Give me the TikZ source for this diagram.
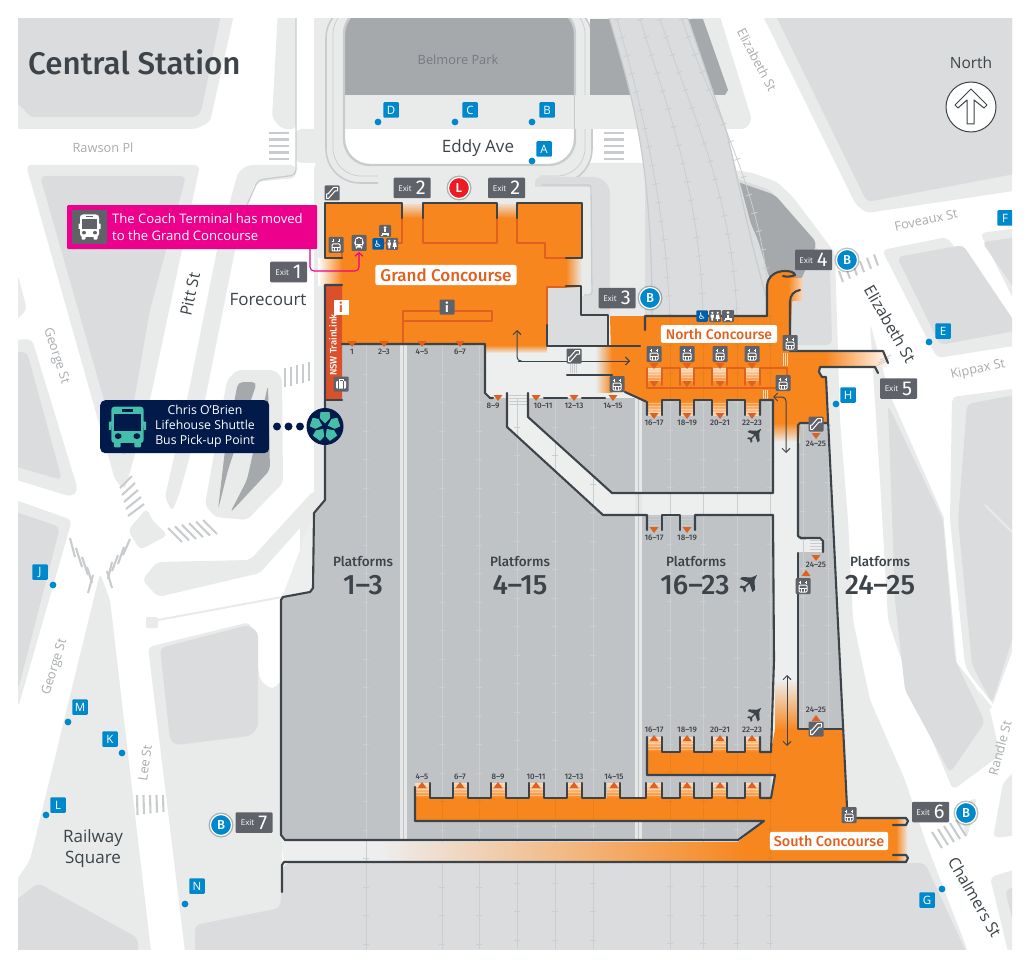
\documentclass[tikz,border=0pt]{standalone}
\usepackage{fontspec}
\setmainfont{Open Sans}
\newfontfamily\dinf[Ligatures=TeX]{Fira Sans}
\newfontfamily\dinm[Ligatures=TeX]{Fira Sans Medium}
\newfontfamily\dejav{DejaVu Sans}
\usetikzlibrary{arrows.meta}
\definecolor{orng}{HTML}{F7861E}
\definecolor{orngd}{HTML}{E0601F}
\definecolor{orngt}{HTML}{E9801C}
\definecolor{redb}{HTML}{D9502A}
\definecolor{wallc}{HTML}{3C4449}
\definecolor{plat}{HTML}{C0C3C6}
\definecolor{palec}{HTML}{EDEEEE}
\definecolor{pav}{HTML}{E9EBEB}
\definecolor{blk}{HTML}{DADCDD}
\definecolor{darkg}{HTML}{A5A9AC}
\definecolor{crossc}{HTML}{C9CCCE}
\definecolor{trk}{HTML}{CBCED0}
\definecolor{iconc}{HTML}{5F6369}
\definecolor{stopb}{HTML}{0088CC}
\definecolor{wcb}{HTML}{005EA8}
\definecolor{pinkc}{HTML}{EC008C}
\definecolor{navyc}{HTML}{021A4A}
\definecolor{tealc}{HTML}{45BFA9}
\definecolor{txtd}{HTML}{3C4449}
\definecolor{txtg}{HTML}{A8ACAF}
\definecolor{redl}{HTML}{ED1C24}
\tikzset{
 wall/.style={draw=wallc,line width=2.1,line join=round,line cap=round},
 inner line/.style={draw=orngd,line width=1.6,line join=round,line cap=round},
 crossing/.style={draw=crossc,line width=2.1},
 street/.style={text=txtg,font=\fontsize{12.8}{13}\selectfont,inner sep=0},
 place/.style={text=txtd,font=\fontsize{17}{21}\selectfont,inner sep=0,align=center},
 smalllab/.style={text=txtd,font=\dinm\fontsize{8}{8}\selectfont,inner sep=0},
 platlab/.style={text=txtd,font=\dinm\fontsize{13.5}{14}\selectfont,inner sep=0},
 platnum/.style={text=txtd,font=\dinm\fontsize{28}{28}\selectfont,inner sep=0},
 exitbox/.style={fill=iconc,text=white,inner sep=0,minimum width=37,minimum height=20.5,rounded corners=1pt},
 stopbox/.style={fill=stopb,text=white,inner sep=0,minimum width=15.5,minimum height=15.5,rounded corners=1pt,font=\fontsize{11.5}{12}\selectfont},
 hallname/.style={fill=white,text=orngd,rounded corners=2pt,inner xsep=5,inner ysep=3.5},
 darrow/.style={draw=wallc,line width=1,{Straight Barb[length=4pt,width=8pt]}-{Straight Barb[length=4pt,width=8pt]}},
}
% ---- icons
\newcommand\gbox{\fill[iconc,rounded corners=1pt] (-7.5,-8) rectangle (7.5,8);}
\newcommand\liftic[2]{\begin{scope}[shift={(#1,#2)}]\gbox
 \draw[white,line width=1,rounded corners=1pt] (-4,-1) rectangle (4,6);
 \draw[white,line width=.7] (-4,2.5)--(4,2.5) (-1.4,2.5)--(-1.4,6) (1.4,2.5)--(1.4,6);
 \draw[white,line width=.9] (-3,-5.5)--(-3,-2.5) (-4.3,-4)--(-1.7,-4) (3,-5.5)--(3,-2.5);
 \draw[white,line width=.9] (1.7,-4)--(4.3,-4);
 \end{scope}}
\newcommand\escic[2]{\begin{scope}[shift={(#1,#2)}]\fill[iconc,rounded corners=1pt] (-7.5,-7.5) rectangle (7.5,7.5);
 \draw[white,line width=1,line cap=round,line join=round] (-5.5,5.5)--(-3.5,5.5)--(3,-2)--(5.5,-2)--(5.5,-5.5)--(1.5,-5.5)--(-4,1)--(-5.5,1)--cycle;
 \end{scope}}
\newcommand\busic[5]{\begin{scope}[shift={(#1,#2)},#3]
 \fill[#4] (-9,-4) -- (-11,-3.5) -- (-11,2) -- (-9.6,2) -- cycle;
 \fill[#4] (9,-4) -- (11,-3.5) -- (11,2) -- (9.6,2) -- cycle;
 \fill[#4,rounded corners=3pt] (-9.5,-14) rectangle (9.5,11);
 \fill[#4,rounded corners=1pt] (-8,9) rectangle (-4,14) (8,9) rectangle (4,14);
 \fill[#5] (-7.8,-9) rectangle (7.8,2.5);
 \fill[#5] (-3.5,-12.6) rectangle (3.5,-10.6);
 \fill[#5] (-5.5,6.3) circle (2) (5.5,6.3) circle (2);
 \end{scope}}
\newcommand\tolic[2]{\begin{scope}[shift={(#1,#2)}]\fill[iconc,rounded corners=1pt] (-6,-6) rectangle (6,6);
 \fill[white] (-2.7,-3.2) circle (1.2) (2.7,-3.2) circle (1.2);
 \fill[white] (-4.3,-1.5) rectangle (-1.2,1.5) (-3.6,1.5) rectangle (-1.9,4.5);
 \fill[white] (1.4,-1.5) -- (4,-1.5) -- (4.8,3) -- (.6,3) -- cycle;
 \fill[white] (2,3) rectangle (3.4,4.8);
 \end{scope}}
\newcommand\pramic[2]{\begin{scope}[shift={(#1,#2)}]\fill[iconc,rounded corners=1pt] (-6,-6) rectangle (6,6);
 \fill[white] (0,-3.4) circle (1.5);
 \fill[white] (-1.4,-1.5) rectangle (1.4,1.5);
 \fill[white] (-3.5,1.8) rectangle (3.5,3.6);
 \fill[white] (-3,4.5) circle (.9) (3,4.5) circle (.9);
 \end{scope}}
\newcommand\wcic[2]{\node[fill=wcb,text=white,inner sep=0,minimum size=11.5,rounded corners=1pt,font=\dejav\fontsize{9}{9}\selectfont] at (#1,#2) {♿};}
\newcommand\planeic[3]{\begin{scope}[shift={(#1,#2)},scale=#3]
 \fill[wallc] (9,-9) -- (6.5,-3.5) -- (7,6) -- (4.5,8) -- (1.5,-0.5) -- (-2.5,3.5) -- (-2,7) -- (-4,8.5) -- (-5,4.5) -- (-8.5,3.5) -- (-7,1.6) -- (-3.5,2.2) -- (.5,-1.5) -- (-8,-5) -- (-6,-7) -- (3.5,-6.5) -- cycle;
 \end{scope}}
\newcommand\trd[2]{\fill[orngd] (#1-4.5,#2-3) -- (#1+4.5,#2-3) -- (#1,#2+3) -- cycle;}
\newcommand\tru[2]{\fill[orngd] (#1-4.5,#2+3) -- (#1+4.5,#2+3) -- (#1,#2-3) -- cycle;}
\newcommand\stairO[3]{%
 \ifnum#3=1 \shade[top color=orng,bottom color=orng!35!white] (#1-7,#2) rectangle (#1+7,#2+15);
 \else \shade[top color=orng!30!white,bottom color=orng] (#1-7,#2) rectangle (#1+7,#2+15);\fi
 \foreach \k in {3,6,9,12}{\draw[white,opacity=.35,line width=.7] (#1-7,#2+\k) -- (#1+7,#2+\k);}}
\newcommand\stairG[3]{\foreach \k in {0,3,6,9}{\draw[crossc,line width=.7] (#1-#3,#2+\k) -- (#1+#3,#2+\k);}}
\newcommand\exitb[4]{\node[exitbox] (#1) at (#2,#3) {\raisebox{3.5pt}{\fontsize{8}{8}\selectfont Exit}\hspace{4pt}{\dinf\fontsize{20}{20}\selectfont #4}};}
\newcommand\bbadge[4]{\fill[black,opacity=.25] (#2,#3) circle (12.5);
 \node[circle,fill=#1,draw=white,line width=1.2,text=white,inner sep=0,minimum size=21,font=\dinm\fontsize{13}{13}\selectfont] at (#2,#3) {#4};}
\newcommand\stopm[5]{\fill[stopb] (#4,#5) circle (3.4);
 \node[stopbox] at (#2,#3) {#1};}
\newcommand\tracksv[1]{%
 \foreach \x/\yy in {366/345,442/345,479/345,517/398,555/398,593/398,670/316,703/316,737/316,770/316}{
  \draw[#1,line width=.8] (\x,\yy)--(\x,949);
  \draw[#1,line width=6.5,dash pattern=on .8pt off 27.7pt] (\x,\yy)--(\x,949);}
 \foreach \x in {803,828}{
  \draw[#1,line width=.8] (\x,425)--(\x,728);
  \draw[#1,line width=6.5,dash pattern=on .8pt off 27.7pt] (\x,425)--(\x,728);}}
\def\grandpoly{(325,203)--(402,203)--(402,218)--(423,218)--(423,203)--(497,203)--(497,218)--(517,218)--(517,203)--(582,203)--(582,258)--(566,258)--(566,287)--(547,287)--(547,345)--(342,345)--(342,258)--(325,258)--cycle}
\def\northpoly{(610,316)--(767,316)--(767,287)..controls (767,276) and (776,271)..(785,271)..controls (790,271) and (794,272)..(796,275)--(800,290)--(792,302)--(790,351)--(825,351)--(825,367)--(820,367)--(819,372)--(822,377)--(826,377)--(828,423)--(773,423)--(773,400)--(647,400)--(645,402)--(625,392)--(612,392)--cycle}
\def\southpoly{(775,729)--(843,729)--(847,807)--(847,818)--(896,818)--(896,862)--(745,862)--(738,842)--(764,821)--(415,821)--(415,798)--(771,798)--(775,775)--(647,775)--(647,752)--(771,752)--cycle}
\begin{document}
\begin{tikzpicture}[x=1pt,y=-1pt]
\useasboundingbox (0,0) rectangle (1030,968);
\fill[white] (0,0) rectangle (1030,968);
\fill[white] (18,19) rectangle (1012,949);
\begin{scope}
\clip (18,19) rectangle (1012,949);
% ===== city blocks
\begin{scope}[rounded corners=5pt]
 \fill[pav] (10,10) -- (235,10) -- (210,122) -- (196,129) -- (10,129) -- cycle;
 \fill[blk] (10,10) -- (222,10) -- (201,112) -- (196,117) -- (30,117) -- (20,105) -- (10,100) -- cycle;
 \fill[pav] (278,10) -- (296,10) -- (296,129) -- (282,129) -- (272,118) -- cycle;
 % Pitt St corner and its east band
 \fill[pav] (296,165) -- (248,165) -- (238,172) -- (217,250) -- (187,400) -- (165,497) -- (172,512) -- (180,492) -- (205,400) -- (235,250) -- (247,205) -- (255,182) -- (296,178) -- cycle;
 % big wedge west of Pitt St
 \fill[pav] (26,165) -- (200,165) -- (182,250) -- (150,400) -- (125,490) -- (115,480) -- cycle;
 \fill[blk] (40,176) -- (186,176) -- (150,310) -- (124,458) -- (104,400) -- cycle;
 \fill[pav] (18,275) -- (27,310) -- (10,325) -- cycle;
 \fill[pav] (10,340) -- (32,339) -- (78,490) -- (72,497) -- (10,478) -- cycle;
 \fill[blk] (10,352) -- (27,352) -- (62,480) -- (10,465) -- cycle;
 \fill[pav] (10,498) -- (72,520) -- (18,708) -- (10,708) -- cycle;
 \fill[blk] (10,510) -- (60,527) -- (18,690) -- (10,690) -- cycle;
 % Railway square
 \fill[pav] (100,573) -- (110,600) -- (152,960) -- (10,960) -- (10,890) -- (30,860) -- cycle;
 \fill[blk] (10,905) -- (38,883) -- (138,938) -- (138,960) -- (10,960) -- cycle;
 % Block east of Lee St
 \fill[pav] (148,647) -- (250,622) -- (260,680) -- (272,690) -- (282,680) -- (282,960) -- (186,960) -- cycle;
 \fill[blk] (160,648) -- (248,625) -- (258,632) -- (258,728) -- (250,736) -- (176,745) -- (170,740) -- cycle;
 % Islands
 \fill[pav] (128,530) -- (147,508) -- (152,520) -- (168,535) -- (140,550) -- cycle;
 \fill[pav] (142,580) -- (157,562) -- (250,560) -- (314,490) -- (325,500) -- (260,573) -- (158,597) -- cycle;
 \fill[pav] (227,380) -- (237,370) -- (275,370) -- (282,378) -- (283,483) -- (247,520) -- (215,517) -- (205,505) -- cycle;
 \fill[darkg] (238,382) -- (257,382) -- (228,470) -- (218,510) -- (225,450) -- cycle;
 \fill[darkg] (268,385) -- (270,470) -- (230,513) -- (247,480) -- cycle;
 \fill[pav] (314,15) rectangle (350,165);
 \fill[pav] (296,129) rectangle (350,163);
 % pale around the station & east band
 \fill[pav] (314,163) -- (687,163) -- (753,173) -- (777,182) -- (793,197) -- (835,253) -- (840,420) -- (848,520) -- (853,620) -- (870,700) -- (905,780) -- (925,840) -- (967,949) -- (967,960) -- (300,960) -- (300,520) -- (314,497) -- cycle;
 \fill[blk] (195,925) -- (280,908) -- (284,863) -- (925,863) -- (970,960) -- (195,960) -- cycle;
 \fill[blk] (645,182) -- (652,176) -- (718,172) -- (770,190) -- (830,265) -- (832,345) -- (645,345) -- cycle;
 \fill[darkg] (732,180) -- (775,195) -- (817,243) -- (800,282) -- (770,280) -- (758,240) -- cycle;
 % Elizabeth St corner / pavement north-east
 \fill[pav] (590,95) -- (703,10) -- (718,10) -- (752,120) -- (746,129) -- (590,129) -- cycle;
 \fill[pav] (760,10) -- (1020,10) -- (1020,190) -- (867,213) -- (856,205) -- cycle;
 \fill[blk] (773,10) -- (1020,10) -- (1020,173) -- (867,202) -- cycle;
 \fill[pav] (882,250) -- (947,237) -- (1020,335) -- (1020,345) -- (937,358) -- cycle;
 \fill[blk] (897,257) -- (963,245) -- (1020,330) -- (940,345) -- cycle;
 \fill[pav] (980,233) -- (1020,228) -- (1020,312) -- cycle;
 \fill[blk] (982,242) -- (1020,237) -- (1020,297) -- cycle;
 % South-east blocks
 \fill[pav] (870,323) -- (890,395) -- (945,520) -- (958,660) -- (990,710) -- (1000,755) -- (953,790) -- (915,700) -- (888,620) -- (880,480) -- cycle;
 \fill[blk] (888,405) -- (943,520) -- (955,660) -- (985,722) -- (950,773) -- (905,690) -- (895,600) -- cycle;
 \fill[pav] (952,397) -- (1020,388) -- (1020,630) -- (990,712) -- (965,665) -- (950,520) -- cycle;
 \fill[blk] (967,404) -- (1020,394) -- (1020,615) -- (992,703) -- (972,665) -- (958,520) -- cycle;
 \fill[pav] (1020,765) -- (1003,783) -- (993,838) -- (1020,835) -- cycle;
 \fill[pav] (977,797) -- (967,838) -- (957,808) -- cycle;
 \fill[pav] (990,877) -- (1020,868) -- (1020,960) -- (1010,960) -- cycle;
 \fill[blk] (1005,890) -- (1020,885) -- (1020,950) -- cycle;
\end{scope}
\draw[pav,line width=2] (985,505) -- (1020,540);
\draw[white,line width=2.5] (945,520) -- (958,662) -- (1000,715) -- (1020,700);
\draw[crossc,line width=1.3,rounded corners=5pt] (296,10) -- (296,175) -- (258,180) -- (247,205);
\draw[pav,line width=2] (158,620) -- (293,595);
\fill[pav,rounded corners=1.5pt] (146,617) rectangle (158,628);
% ===== park ring
\fill[pav,rounded corners=34pt] (326,4) -- (326,183) -- (592,183) -- (592,4) -- cycle;
\fill[white,rounded corners=26pt] (344,8) -- (344,165) -- (575,165) -- (575,8) -- cycle;
\begin{scope}
\clip[rounded corners=26pt] (344,8) -- (344,165) -- (575,165) -- (575,8) -- cycle;
\fill[darkg] (340,0) rectangle (580,95);
\fill[pav] (340,95) rectangle (580,129);
\end{scope}
\draw[crossc,line width=1.6,rounded corners=34pt] (378,183) -- (326,183) -- (326,4) -- (360,4);
\draw[crossc,line width=1.6,rounded corners=34pt] (540,183) -- (592,183) -- (592,4) -- (560,4);
\draw[crossc,line width=.7,rounded corners=28pt] (378,176) -- (333,176) -- (333,6) -- (360,6);
\draw[crossc,line width=.7,rounded corners=28pt] (540,176) -- (585,176) -- (585,6) -- (560,6);
\draw[crossc,line width=2.4,rounded corners=26pt] (360,8) -- (344,8) -- (344,165) -- (575,165) -- (575,8) -- (560,8);
% ===== tracks corridor north
\fill[darkg] (590,19) -- (703,19) -- (728,90) -- (725,95) -- (590,95) -- cycle;
\fill[pav] (575,95) rectangle (600,129);
\fill[blk] (607,10) .. controls (630,90) and (652,150) .. (652,316) -- (767,316) .. controls (770,280) and (740,190) .. (727,133) -- (685,10) -- cycle;
\draw[crossc,line width=1.2] (607,10) .. controls (630,90) and (652,150) .. (652,316);
\draw[crossc,line width=1.2] (685,10) -- (727,133) .. controls (740,190) and (750,240) .. (767,300);
\foreach \a/\b/\c/\d/\e/\f in {617/640/100/665/200/670,640/668/110/700/190/703,660/690/110/732/190/737,682/712/110/765/190/770}{
 \draw[trk,line width=.8] (\a,19) .. controls (\b,\c) and (\d,\e) .. (\f,316);
 \draw[trk,line width=6.5,dash pattern=on .8pt off 18pt] (\a,19) .. controls (\b,\c) and (\d,\e) .. (\f,316);}
% ===== pale band east of grand concourse
\fill[blk,rounded corners=6pt] (535,177) -- (600,177) -- (610,187) -- (610,318) -- (535,318) -- cycle;
\fill[pav,rounded corners=3pt] (530,187) -- (592,187) -- (592,296) -- (530,296) -- cycle;
\draw[crossc,line width=1.3,rounded corners=3pt] (542,185) -- (591,185) -- (592,295) -- (584,295);
% ===== crossings
\foreach \a in {133,139.5,146,152.5,159}{\draw[crossing] (269,\a)--(289,\a); \draw[crossing] (604,\a)--(624,\a);}
\foreach \k in {0,1,2,3,4}{
 \draw[crossing] (285+\k*6,368-\k*1.4)--(285+\k*6,387-\k*1.4);
 \draw[crossing] (120+\k*2,488+\k*7)--(132+\k*3,476+\k*7);
 \draw[crossing] (137+\k*6.5,795)--(137.5+\k*6.5,815-\k*0.8);
}
\foreach \k in {0,1,2,3,4,5}{
 \draw[crossing] (168+\k*7,528-\k*1.6)--(182+\k*7,542-\k*1.6);
 \draw[crossing] (839+\k*7,271-\k*3.3)--(843+\k*7,282-\k*3.3);
}
\foreach \a/\b/\c/\d in {130/539/123/555,124/547/118/564,118/555/112/571,112/562/108/579,107/571/112/588,70/538/75/557,76/548/82/567,82/557/88/575,87/567/92/583,93/575/88/593,932/832/942/848,938/829/948/845,944/826/954/842,950/823/960/839,956/820/966/836}{\draw[crossing] (\a,\b)--(\c,\d);}
% ===== station base
\fill[palec] (281,600) -- (314,513) -- (327,500) -- (327,345) -- (485,345) -- (547,346) -- (640,346) -- (640,375) -- (825,375) -- (847,807) -- (847,862) -- (284,862) -- (281,840) -- cycle;
\fill[plat] (327,345) -- (485,345) -- (485,393) -- (490,398) -- (507,398) -- (507,427) -- (603,515) -- (773,515) -- (774,660) -- (771,800) -- (764,821) -- (738,840) -- (285,840) -- (281,835) -- (281,600) -- (283,597) -- (310,592) -- (313,588) -- (314,513) -- (325,500) -- cycle;
\fill[plat] (528,398) -- (645,398) -- (647,400) -- (773,400) -- (773,493) -- (612,493) -- (528,417) -- cycle;
\fill[plat] (798,423) -- (827,423) -- (843,729) -- (798,729) -- cycle;
\fill[palec] (795,539) rectangle (822,552);
\fill[blk] (547,287) -- (581,287) -- (581,315) -- (608,315) -- (608,346) -- (547,346) -- cycle;
\fill[palec] (490,345) rectangle (546,355);
\fill[palec] (507,393) -- (528,393) -- (528,417) -- (612,493) -- (773,493) -- (773,400) -- (798,400) -- (798,800) -- (775,800) -- (773,515) -- (603,515) -- (507,427) -- cycle;
% pale stripes
\foreach \x/\yy in {403/345,638/398}{\fill[palec!85!plat] (\x-3.5,\yy) rectangle (\x+3.5,840);
  \draw[plat,line width=.6] (\x,\yy)--(\x,840);}
\tracksv{trk}
% ===== orange
\fill[orng] \grandpoly;
\fill[orng] \northpoly;
\fill[orng] \southpoly;
\shade[left color=palec,right color=orng] (380,842) rectangle (745,861);
\shade[top color=palec,bottom color=orng] (775,680) rectangle (798,730);
\fill[orng] (775,729) rectangle (798,775);
\shade[left color=orng,right color=palec] (896,819) rectangle (908,861);
\shade[bottom color=orng,top color=orng!25!palec] (402,205) rectangle (423,218);
\shade[bottom color=orng,top color=orng!25!palec] (497,205) rectangle (517,218);
\shade[left color=orng,right color=pav] (566,258) rectangle (582,287);
\shade[right color=orng,left color=white] (318,259) rectangle (342,285);
\shade[top color=orng,bottom color=palec] (486,345) rectangle (547,353);
\shade[left color=pav,right color=orng] (596,347) rectangle (612,392);
\shade[top color=orng,bottom color=palec] (773,423) rectangle (800,442);
\shade[left color=orng,right color=orng!5!white] (825,352) rectangle (888,366);
\shade[left color=orng,right color=orng!35!white] (788,278) rectangle (802,300);
\begin{scope}\clip \southpoly; \tracksv{orngt}\end{scope}
\begin{scope}\clip \northpoly; \tracksv{orngt}\end{scope}
\begin{scope}\clip (740,842) rectangle (847,862); \tracksv{orngt}\end{scope}
% stairs
\foreach \x in {654,687,720,752}{\stairO{\x}{400}{1}\stairO{\x}{368}{0}\stairO{\x}{737}{0}\stairO{\x}{783}{0}}
\foreach \x in {422,460,498,536,574,614}{\stairO{\x}{783}{0}}
\foreach \x in {654,687}{\stairG{\x}{516}{6}}
\stairG{517.5}{395}{9}
\stairG{816}{540}{6}
\foreach \k in {0,2,4,6}{\draw[crossc,line width=.7] (570+\k,364)--(570+\k,373);}
\foreach \k in {0,2,4}{\draw[orng!30!white,line width=.7] (783+\k,353)--(783+\k,366); \draw[orng!30!white,line width=.7] (763+\k,390)--(763+\k,399);}
\foreach \k in {0,3,6}{\draw[crossc,line width=.7] (876+\k*.7,366-\k)--(887+\k*.7,361-\k);}
% NSW block
\fill[redb,rounded corners=1pt] (325,285) rectangle (342,400);
% inner orange lines
\draw[inner line] (402,218)--(402,243)--(373,243);
\draw[inner line] (423,218)--(423,243)--(497,243)--(497,218);
\draw[inner line] (517,218)--(517,243)--(545,243)--(545,258)--(566,258);
\draw[inner line] (342,250)--(342,258)--(325,258);
\draw[inner line] (403,343)--(403,311)--(492,311)--(492,321)--(403,321);
\draw[inner line] (547,287)--(566,287) (547,287)--(547,325);
\draw[inner line] (647,368)--(647,388)--(787,388)--(787,368)--(760,368)--(760,385);
\draw[inner line] (662,385)--(662,368)--(680,368)--(680,385);
\draw[inner line] (694,385)--(694,368)--(712,368)--(712,385);
\draw[inner line] (727,385)--(727,368)--(745,368)--(745,385);
% walls
\draw[wall] (342,258)--(325,258)--(325,203)--(402,203)--(402,218);
\draw[wall] (423,218)--(423,203)--(497,203)--(497,218);
\draw[wall] (517,218)--(517,203)--(582,203)--(582,258)--(566,258);
\draw[wall] (566,286)--(581,286)--(581,315)--(608,315)--(608,346)--(547,346)--(547,325);
\draw[wall] (608,346)--(640,346);
\draw[wall] (342,285)--(325,285)--(325,500)--(314,513)--(313,588)--(310,592)--(283,597)--(281,600)--(281,835)--(285,840)--(738,840)--(764,821)--(415,821)--(415,787);
\draw[wall] (325,400)--(342,400);
\draw[wall] (342,344)--(485,344)--(485,393)--(490,398)--(493,398);
\draw[wall] (507,393)--(507,427)--(603,515)--(647,515)--(647,530);
\draw[wall] (662,530)--(662,515)--(680,515)--(680,530);
\draw[wall] (695,530)--(695,515)--(773,515)--(774,660)--(771,752)--(760,752)--(760,737);
\draw[wall] (647,737)--(647,775)--(775,775)--(771,798)--(760,798)--(760,783);
\foreach \a/\b in {727/745,694/712,662/680}{
 \draw[wall] (\b,737)--(\b,752)--(\a,752)--(\a,737);
 \draw[wall] (\b,783)--(\b,798)--(\a,798)--(\a,783);
 \draw[wall] (\b,415)--(\b,400)--(\a,400)--(\a,415);}
\foreach \a/\b in {620/646,582/605,544/567,506/529,468/491,430/453}{
 \draw[wall] (\b,783)--(\b,798)--(\a,798)--(\a,783);}
\draw[wall] (528,393)--(528,417)--(612,493)--(773,493)--(773,400)--(760,400)--(760,415);
\draw[wall] (647,415)--(647,402)--(625,392);
\draw[wall] (544,398)--(567,398) (582,398)--(605,398);
\draw[wall] (612,375)--(567,375);
\draw[wall] (645,330)--(645,316)--(767,316)--(767,287) .. controls (767,276) and (776,271) .. (785,271) .. controls (790,271) and (794,272) .. (795,275) .. controls (791,277) and (786,277) .. (783,276);
\draw[wall] (800,290) .. controls (794,291) and (790,295) .. (790,302)--(790,351)--(883,351)--(888,363);
\draw[wall] (878,373)--(875,367)--(820,367)--(819,372)--(822,377)--(826,377)--(828,420)--(847,807)--(847,818)--(906,818)--(908,821)--(906,825)--(893,825);
\draw[wall] (893,855)--(906,855)--(908,858)--(906,862)--(284,862)--(282,865)--(282,892);
\draw[wall] (827,423)--(800,423)--(798,425)--(798,536)--(801,538)--(820,538)--(823,541)--(823,552);
\draw[wall] (798,553)--(798,729)--(843,729);
% triangles
\foreach \x in {352,384,422,460}{\trd{\x}{344}}
\trd{498}{398} \trd{536}{398}\trd{574}{398}\trd{613}{398}
\foreach \x in {654,687,720,752}{\trd{\x}{416}\trd{\x}{366}\trd{\x}{384}\tru{\x}{738}\tru{\x}{785}}
\foreach \x in {422,460,498,536,574,614}{\tru{\x}{785}}
\trd{654}{530}\trd{687}{530}
\trd{816}{436}\trd{816}{558}\tru{806}{573}\tru{816}{718}
% arrows
\coordinate (aup) at (517,330);
\coordinate (arrh) at (630,361);
\draw[draw=wallc,line width=1,rounded corners=4pt,-{Straight Barb[length=4pt,width=8pt]}] (520,361) -- (517,361) -- (aup);
\draw[draw=wallc,line width=1,-{Straight Barb[length=4pt,width=8pt]}] (518,361) -- (arrh);
\draw[darrow,rounded corners=4pt] (773,397) -- (786,397) -- (786,453);
\draw[darrow] (787,675) -- (787,746);
\end{scope}
% ===== icons
\foreach \x in {654,687,720,752}{\liftic{\x}{354}}
\liftic{336}{245} \liftic{790}{343} \liftic{617}{384} \liftic{783}{383} \liftic{803}{586} \liftic{849}{815}
\escic{332}{193} \escic{574}{356} \escic{816}{424} \escic{816}{729}
\fill[iconc,rounded corners=1pt] (351.5,235) rectangle (366.5,251);
\busic{359}{243}{scale=.42}{white}{iconc}
\pramic{385}{231} \tolic{392}{244} \wcic{378}{244}
\wcic{702}{316} \tolic{715}{316} \pramic{728}{316}
\node[fill=white,text=orngd,inner sep=0,minimum width=15,minimum height=15,font=\dinf\bfseries\fontsize{13}{13}\selectfont] (infotl) at (341,307) {i};
\node[fill=iconc,text=white,inner sep=0,minimum width=15,minimum height=15,rounded corners=1pt,font=\dinf\bfseries\fontsize{13}{13}\selectfont] (infog) at (447,307) {i};
\fill[iconc,rounded corners=1pt] (333.5,376.5) rectangle (348.5,391.5);
\fill[white,rounded corners=1pt] (336,381) rectangle (346,388.5);
\draw[white,line width=.9] (339,381)--(339,379)--(343,379)--(343,381);
\draw[iconc,line width=.7] (338.5,381)--(338.5,388.5) (343.5,381)--(343.5,388.5);
\node[rotate=90,text=white,inner sep=0,font=\dinm\fontsize{9.5}{10}\selectfont] (nsw) at (333,345) {NSW TrainLink};
% ===== hall names
\node[hallname,font=\dinm\fontsize{17}{18}\selectfont] (grand) at (446,275) {Grand Concourse};
\node[hallname,font=\dinm\fontsize{14}{15}\selectfont] (north) at (719,334) {North Concourse};
\node[hallname,font=\dinm\fontsize{14.4}{15}\selectfont,inner xsep=4] (south) at (829,841) {South Concourse};
% ===== small platform labels
\foreach \t/\x/\y in {1/352/352,2--3/384/352,4--5/422/352,6--7/460/352,8--9/493/406,10--11/543/406,12--13/574/406,14--15/613/406,16--17/654/423,18--19/687/423,20--21/720/423,22--23/752/423,16--17/654/538,18--19/687/538,24--25/816/444,24--25/816/565,24--25/816/710,16--17/654/730,18--19/687/730,20--21/720/730,22--23/752/730,4--5/422/777,6--7/460/777,8--9/498/777,10--11/536/777,12--13/574/777,14--15/614/777}{\node[smalllab] at (\x,\y) {\t};}
\planeic{754}{436}{.8}\planeic{748}{584}{1}\planeic{754}{715}{.8}
\node[platlab] (p1) at (363,562) {Platforms};
\node[platnum] (n1) at (363,585) {1--3};
\node[platlab] (p2) at (520,562) {Platforms};
\node[platnum] (n2) at (520,585) {4--15};
\node[platlab] (p3) at (696,562) {Platforms};
\node[platnum] (n3) at (695,585) {16--23};
\node[platlab] (p4) at (880,562) {Platforms};
\node[platnum] (n4) at (880,585) {24--25};
% ===== exits
\exitb{e1}{288.5}{272}{1}
\exitb{e2a}{412}{188}{2}
\exitb{e2b}{506.5}{188}{2}
\exitb{e3}{617}{298}{3}
\exitb{e4}{813.5}{260}{4}
\exitb{e5}{898.5}{388.5}{5}
\exitb{e6}{930.5}{812}{6}
\exitb{e7}{254}{822.5}{7}
\bbadge{stopb}{650}{298}{B}
\bbadge{stopb}{847}{260}{B}
\bbadge{stopb}{966}{813}{B}
\bbadge{stopb}{221}{825}{B}
\bbadge{redl}{459}{188}{L}
% ===== stops
\stopm{D}{391}{110}{378}{122}
\stopm{C}{470}{110}{455}{122}
\stopm{B}{547}{110}{532}{122}
\stopm{A}{544}{149}{532}{161}
\stopm{E}{943}{331}{929}{342}
\stopm{H}{848}{395}{836}{404}
\stopm{J}{40}{572}{53}{585}
\stopm{M}{80}{707}{68}{722}
\stopm{K}{110}{739}{122}{753}
\stopm{L}{58}{805}{46}{815}
\stopm{N}{197}{886}{185}{904}
\stopm{G}{927}{900}{942}{889}
\begin{scope}\clip (18,19) rectangle (1012,949);\node[stopbox] at (1005,218) {F};\end{scope}
% ===== street text
\node[text=txtd,font=\dinm\fontsize{31.3}{32}\selectfont,inner sep=0,anchor=west] (title) at (28,62) {Central Station};
\node[street] at (103,148) {Rawson Pl};
\node[street,text=iconc!85!white] at (458,60) {Belmore Park};
\node[place] at (478,148) {Eddy Ave};
\node[street,rotate=-62] at (757,60) {Elizabeth St};
\node[street,rotate=12] at (926,220) {Foveaux St};
\node[street,rotate=12] at (978,370) {Kippax St};
\node[place,rotate=-60,font=\fontsize{16}{16}\selectfont] at (890,324) {Elizabeth St};
\node[place,rotate=-60,font=\fontsize{16}{16}\selectfont] at (975,897) {Chalmers St};
\node[street,rotate=75] at (1000,748) {Randle St};
\node[street,rotate=-72] at (56,356) {George St};
\node[street,rotate=73] at (55,667) {George St};
\node[street,rotate=82] at (145,763) {Lee St};
\node[place,rotate=78,font=\fontsize{16}{16}\selectfont] at (190,294) {Pitt St};
\node[place] at (268,300) {Forecourt};
\node[place] at (93,849) {Railway\\Square};
\node[place,font=\fontsize{15.5}{16}\selectfont] at (971,63) {North};
\draw[wallc,fill=white,line width=1] (971,107) circle (25);
\draw[wallc,fill=white,line width=1,line join=round] (971,89) -- (955,105) -- (958,108) -- (967,100) -- (967,124) -- (974,124) -- (974,100) -- (984,108) -- (987,105) -- cycle;
% ===== pink callout
\node[fill=pinkc,text=white,anchor=north west,inner sep=0,minimum width=250,minimum height=44,rounded corners=1pt] (coach) at (67,205) {};
\fill[iconc,rounded corners=1pt] (72,210) rectangle (107,244);
\busic{89.5}{227}{xscale=1,yscale=.9}{white}{iconc}
\node[text=white,anchor=west,align=left,inner sep=0,font=\fontsize{13.1}{16.5}\selectfont] (coachtxt) at (112,227) {The Coach Terminal has moved\\to the Grand Concourse};
\coordinate (pka) at (310,249);
\coordinate (pkb) at (359,252);
\draw[pinkc,line width=1.1,rounded corners=4pt,-{Straight Barb[length=3.5pt,width=8pt]}] (pka) -- (310,271) -- (359,271) -- (pkb);
% ===== shuttle
\node[fill=navyc,anchor=north west,inner sep=0,minimum width=169,minimum height=53,rounded corners=5pt] (shuttle) at (100,400) {};
\busic{127.5}{427}{xscale=1.7,yscale=1.45}{tealc}{navyc}
\node[text=white,align=center,inner sep=0,font=\fontsize{12.3}{15}\selectfont] (shuttletxt) at (205,426.5) {Chris O’Brien\\Lifehouse Shuttle\\Bus Pick-up Point};
\node[circle,fill=navyc,inner sep=0,minimum size=37] (hosp) at (325,426.5) {};
\foreach \x in {277,288.5,300}{\fill[navyc] (\x,426.5) circle (4);}
\foreach \a in {0,72,144,216,288}{\begin{scope}[shift={(325,426.5)},rotate=\a]
 \fill[tealc] (0,-3) -- (-5.2,-8.5) -- (-4.5,-14.5) -- (4.5,-14.5) -- (5.2,-8.5) -- cycle;\end{scope}}
\end{tikzpicture}
\end{document}
